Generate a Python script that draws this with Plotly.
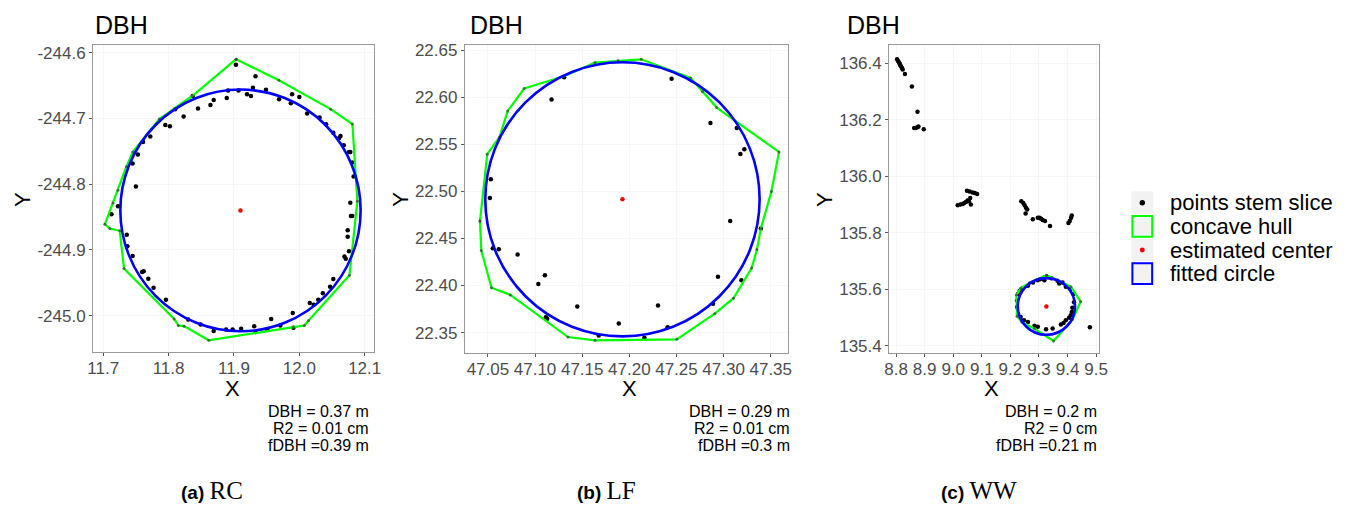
import plotly.graph_objects as go

# ---------------- data ----------------
# Panel (a) RC
a_pts_x = [11.903, 11.933, 11.929, 11.949, 11.920, 11.926, 11.907, 11.891, 11.889, 11.869, 11.864, 11.845,
           11.823, 11.837, 11.810, 11.795, 11.802, 11.772, 11.761, 11.753, 11.745, 11.750,
           11.7126, 11.7227, 11.736, 11.737, 11.745, 11.7595, 11.762, 11.769, 11.777, 11.796, 11.830,
           11.849, 11.869, 11.888, 11.898,
           11.911, 11.931, 11.933, 11.951, 11.957, 11.971, 11.991, 11.990, 12.016, 12.022, 12.029,
           12.036, 12.047, 12.052, 12.069, 12.071, 12.076, 12.074, 12.074, 12.079, 12.081, 12.078,
           11.969, 11.989, 12.000, 11.987, 12.012, 12.031, 12.041, 12.052, 12.063, 12.061, 12.068,
           12.076, 12.078, 12.081, 12.083]
a_pts_y = [-244.6185, -244.636, -244.6535, -244.6565, -244.6635, -244.666, -244.6575, -244.6575, -244.669,
           -244.672, -244.6795, -244.685, -244.697, -244.666, -244.686, -244.71, -244.712, -244.7275,
           -244.736, -244.755, -244.7685, -244.8035,
           -244.846, -244.8335, -244.877, -244.8945, -244.9095, -244.9335, -244.9325, -244.944, -244.9575,
           -244.976, -245.006, -245.0135, -245.0235, -245.021, -245.021,
           -245.02, -245.016, -245.025, -245.022, -245.005, -245.015, -245.0185, -244.996, -244.981,
           -244.9835, -244.976, -244.966, -244.956, -244.9445, -244.91, -244.9135, -244.902, -244.88,
           -244.87, -244.8485, -244.8485, -244.8285,
           -244.671, -244.6635, -244.6675, -244.677, -244.6925, -244.6985, -244.709, -244.722, -244.727,
           -244.73, -244.741, -244.751, -244.751, -244.767, -244.7885]
a_hull_x = [11.9033, 11.9688, 12.048, 12.0812, 12.0888, 12.0767, 12.0142, 12.0077, 11.9911, 11.8614,
            11.8236, 11.815, 11.8085, 11.7318, 11.7253, 11.7101, 11.7026, 11.7151, 11.7227, 11.7354,
            11.7454, 11.7858, 11.8362]
a_hull_y = [-244.610, -244.642, -244.686, -244.7086, -244.826, -244.9386, -245.0076, -245.015, -245.0176,
            -245.0375, -245.016, -245.015, -245.005, -244.9285, -244.871, -244.8676, -244.861, -244.8286,
            -244.8095, -244.7735, -244.751, -244.701, -244.666]
a_center = (11.910, -244.840)
a_radius = 0.1838

# Panel (b) LF
b_pts_x = [47.1308, 47.1175, 47.2448, 47.286, 47.314, 47.3178, 47.322, 47.307, 47.3395, 47.294, 47.3189,
           47.2888, 47.2304, 47.2406, 47.216, 47.1888, 47.1675, 47.1448, 47.1115, 47.1129, 47.1105,
           47.1035, 47.0815, 47.0615, 47.0552, 47.0521, 47.0531]
b_pts_y = [22.621, 22.5976, 22.6196, 22.5725, 22.5673, 22.5397, 22.5446, 22.4685, 22.4605, 22.4092, 22.4057,
           22.3805, 22.3788, 22.3558, 22.3446, 22.3596, 22.347, 22.3778, 22.3662, 22.3648, 22.4109,
           22.4015, 22.4329, 22.4385, 22.4395, 22.4929, 22.5128]
b_hull_x = [47.0416, 47.0493, 47.0622, 47.071, 47.0885, 47.1308, 47.1636, 47.1881, 47.2126, 47.265,
            47.2776, 47.2927, 47.3587, 47.3507, 47.3395, 47.3353, 47.3297, 47.3105, 47.2906, 47.2503,
            47.1636, 47.135, 47.0738, 47.0538, 47.043]
b_hull_y = [22.4685, 22.5394, 22.5575, 22.5854, 22.6092, 22.6221, 22.6367, 22.6388, 22.6402, 22.6203,
            22.6057, 22.5889, 22.5418, 22.4999, 22.4605, 22.4381, 22.4186, 22.3865, 22.3701, 22.3428,
            22.3418, 22.3453, 22.39, 22.3976, 22.4371]
b_center = (47.1927, 22.4915)
b_radius = 0.1455

# Panel (c) WW
c_pts_x = [8.8035, 8.8069, 8.8104, 8.8127, 8.815, 8.8173, 8.8208, 8.8231, 8.8311, 8.8554, 8.875, 8.8634,
           8.8692, 8.875, 8.8784, 8.8969,
           9.0157, 9.0249, 9.033, 9.0388, 9.0445, 9.0503, 9.0549, 9.0618, 9.0595, 9.048, 9.0572, 9.0676,
           9.0757, 9.0837,
           9.2383, 9.2452, 9.2498, 9.2544, 9.259, 9.2533, 9.2787, 9.296, 9.3017, 9.3075, 9.3133, 9.3213,
           9.3386, 9.4032, 9.4078, 9.4125, 9.4148,
           9.296, 9.304, 9.319, 9.319, 9.344, 9.365, 9.371, 9.3825, 9.394, 9.4113, 9.4205, 9.4228, 9.417,
           9.4148, 9.4113, 9.4055, 9.394, 9.3859, 9.3767, 9.3479, 9.3248, 9.296, 9.2845, 9.2614, 9.2475,
           9.236, 9.2268, 9.2234, 9.2234, 9.2268, 9.2326, 9.2441, 9.2614, 9.2791,
           9.4782]
c_pts_y = [136.414, 136.408, 136.4023, 136.3977, 136.393, 136.3884, 136.3826, 136.3779, 136.3616, 136.3174,
           136.2279, 136.1709, 136.1709, 136.1733, 136.1756, 136.1663,
           135.8977, 135.9, 135.9023, 135.9058, 135.9093, 135.914, 135.9116, 135.9, 135.9233, 135.9488,
           135.9465, 135.943, 135.9407, 135.9372,
           135.9116, 135.9058, 135.8977, 135.8884, 135.8826, 135.8686, 135.8477, 135.8535, 135.8535,
           135.85, 135.8453, 135.8419, 135.8244, 135.8349, 135.8419, 135.8535, 135.8616,
           135.6326, 135.636, 135.6419, 135.6326, 135.6395, 135.6302, 135.6209, 135.6244, 135.6093,
           135.6012, 135.5837, 135.5547, 135.5349, 135.5198, 135.5081, 135.5, 135.4907, 135.4814,
           135.4756, 135.4616, 135.4593, 135.4674, 135.4709, 135.4849, 135.4907, 135.5023, 135.514,
           135.5372, 135.5605, 135.5837, 135.5953, 135.6047, 135.6128, 135.6244,
           135.4663]
c_hull_x = [9.3271, 9.4113, 9.4459, 9.4171, 9.3513, 9.2844, 9.2406, 9.2233, 9.221, 9.236, 9.2671]
c_hull_y = [135.65, 135.6093, 135.557, 135.493, 135.4174, 135.4605, 135.4837, 135.5047, 135.5802,
            135.6035, 135.6233]
c_center = (9.326, 135.5395)
c_radius = 0.1003

# tick values
a_xticks = [11.7, 11.8, 11.9, 12.0, 12.1]
a_yticks = [-244.6, -244.7, -244.8, -244.9, -245.0]
b_xticks = [47.05, 47.10, 47.15, 47.20, 47.25, 47.30, 47.35]
b_yticks = [22.35, 22.40, 22.45, 22.50, 22.55, 22.60, 22.65]
c_xticks = [8.8, 8.9, 9.0, 9.1, 9.2, 9.3, 9.4, 9.5]
c_yticks = [135.4, 135.6, 135.8, 136.0, 136.2, 136.4]

# texts
stats = [["DBH = 0.37 m", "R2 = 0.01 cm", "fDBH =0.39 m"],
         ["DBH = 0.29 m", "R2 = 0.01 cm", "fDBH =0.3 m"],
         ["DBH = 0.2 m", "R2 = 0 cm", "fDBH =0.21 m"]]
captions = [("(a)", "RC"), ("(b)", "LF"), ("(c)", "WW")]
legend_labels = ["points stem slice", "concave hull", "estimated center", "fitted circle"]

# ---------------- figure ----------------
W, H = 1356, 506
def px(x):
    return x / W
def py(y):
    return 1 - y / H

FONT = "Liberation Sans, Arial, sans-serif"
GREEN = "#00ff00"
BLUE = "#0000ff"
RED = "#ff0000"

fig = go.Figure()

panels = [
    dict(pts=(a_pts_x, a_pts_y), hull=(a_hull_x, a_hull_y), c=a_center, r=a_radius, ax="",
         xt=a_xticks, yt=a_yticks, xfmt="{:.1f}", yfmt="{:.1f}",
         dom_x=(88, 372), dom_y=(42, 353), rx=(11.68442, 12.11407), ry=(-245.05553, -244.58905)),
    dict(pts=(b_pts_x, b_pts_y), hull=(b_hull_x, b_hull_y), c=b_center, r=b_radius, ax="2",
         xt=b_xticks, yt=b_yticks, xfmt="{:.2f}", yfmt="{:.2f}",
         dom_x=(464, 791), dom_y=(42, 354), rx=(47.02556, 47.36855), ry=(22.32822, 22.65492)),
    dict(pts=(c_pts_x, c_pts_y), hull=(c_hull_x, c_hull_y), c=c_center, r=c_radius, ax="3",
         xt=c_xticks, yt=c_yticks, xfmt="{:.1f}", yfmt="{:.1f}",
         dom_x=(893, 1105), dom_y=(42, 354), rx=(8.77578, 9.50934), ry=(135.37454, 136.46278)),
]

shapes = []
annotations = []

for p in panels:
    xa = "x" + p["ax"]
    ya = "y" + p["ax"]
    fig.add_trace(go.Scatter(x=p["pts"][0], y=p["pts"][1], mode="markers", xaxis=xa, yaxis=ya,
                             marker=dict(color="black", size=4.5), showlegend=False, hoverinfo="skip"))
    hx = list(p["hull"][0]) + [p["hull"][0][0]]
    hy = list(p["hull"][1]) + [p["hull"][1][0]]
    fig.add_trace(go.Scatter(x=hx, y=hy, mode="lines+markers", xaxis=xa, yaxis=ya,
                             line=dict(color=GREEN, width=2.2),
                             marker=dict(color="rgba(60,60,60,0.7)", size=3),
                             showlegend=False, hoverinfo="skip"))
    fig.add_trace(go.Scatter(x=[p["c"][0]], y=[p["c"][1]], mode="markers", xaxis=xa, yaxis=ya,
                             marker=dict(color=RED, size=4.5), showlegend=False, hoverinfo="skip"))
    cx, cy = p["c"]
    r = p["r"]
    shapes.append(dict(type="circle", xref=xa, yref=ya, x0=cx - r, x1=cx + r, y0=cy - r, y1=cy + r,
                       line=dict(color=BLUE, width=2.6), layer="above"))

    axis_common = dict(showline=True, linecolor="#9a9a9a", linewidth=1, mirror=True,
                       ticks="outside", ticklen=3, tickcolor="#5a5a5a", tickwidth=1,
                       showgrid=True, gridcolor="#f6f6f6", zeroline=False,
                       tickfont=dict(family=FONT, size=17, color="#4d4d4d"))
    key = p["ax"]
    fig.update_layout(**{
        "xaxis" + key: dict(domain=[px(p["dom_x"][0]), px(p["dom_x"][1])], range=list(p["rx"]),
                            anchor=ya, tickvals=p["xt"], ticktext=[p["xfmt"].format(v) for v in p["xt"]],
                            ticklabelstandoff=-3, **axis_common),
        "yaxis" + key: dict(domain=[py(p["dom_y"][1]), py(p["dom_y"][0])], range=list(p["ry"]),
                            anchor=xa, tickvals=p["yt"], ticktext=[p["yfmt"].format(v) for v in p["yt"]],
                            **axis_common),
    })

# panel titles and axis titles
title_x = [88, 467, 848]
ytitle_x = [16, 399, 827]
xtitle_x = [229, 630, 997]
stat_x = [369, 795, 1105]
caption_x = [208, 607, 984]
for i in range(3):
    annotations.append(dict(text="DBH", x=px(title_x[i]), y=py(21), xref="paper", yref="paper",
                            xanchor="left", yanchor="middle", showarrow=False,
                            font=dict(family=FONT, size=25, color="black")))
    annotations.append(dict(text="Y", x=px(ytitle_x[i]), y=py(198), xref="paper", yref="paper",
                            xanchor="center", yanchor="middle", showarrow=False, textangle=-90,
                            font=dict(family=FONT, size=22, color="black")))
    annotations.append(dict(text="X", x=px(xtitle_x[i]), y=py(390), xref="paper", yref="paper",
                            xanchor="center", yanchor="middle", showarrow=False,
                            font=dict(family=FONT, size=22, color="black")))
    for j, line in enumerate(stats[i]):
        annotations.append(dict(text=line, x=px(stat_x[i]), y=py(413 + 17.5 * j), xref="paper", yref="paper",
                                xanchor="right", yanchor="middle", showarrow=False,
                                font=dict(family=FONT, size=16, color="black")))
    lab, name = captions[i]
    annotations.append(dict(text="<b>" + lab + "</b> <span style=\"font-family:'Liberation Serif',serif;font-size:25px\">" + name + "</span>",
                            x=px(caption_x[i]), y=py(493), xref="paper", yref="paper",
                            xanchor="center", yanchor="middle", showarrow=False,
                            font=dict(family=FONT, size=19, color="black")))

# legend (drawn manually)
row_top = [190, 214, 238, 262]
key_x0, key_x1 = 1138, 1160
for k, lab in enumerate(legend_labels):
    y0 = row_top[k]
    y1 = y0 + 23
    shapes.append(dict(type="rect", xref="paper", yref="paper", x0=px(key_x0), x1=px(key_x1),
                       y0=py(y1), y1=py(y0), fillcolor="#f2f2f2", line=dict(width=0), layer="below"))
    if k == 1 or k == 3:
        col = GREEN if k == 1 else BLUE
        shapes.append(dict(type="rect", xref="paper", yref="paper", x0=px(key_x0 + 1), x1=px(key_x1 - 1),
                           y0=py(y1 - 1), y1=py(y0 + 1), fillcolor="rgba(0,0,0,0)",
                           line=dict(color=col, width=2), layer="above"))
    annotations.append(dict(text=lab, x=px(1175), y=py((y0 + y1) / 2), xref="paper", yref="paper",
                            xanchor="left", yanchor="middle", showarrow=False,
                            font=dict(family=FONT, size=22, color="black")))
# legend dots
for k, col, d in [(0, "black", 5.5), (2, RED, 5)]:
    yc = row_top[k] + 11.5
    xc = (key_x0 + key_x1) / 2
    shapes.append(dict(type="circle", xref="paper", yref="paper", x0=px(xc - d / 2), x1=px(xc + d / 2),
                       y0=py(yc + d / 2), y1=py(yc - d / 2), fillcolor=col, line=dict(width=0), layer="above"))

fig.update_layout(width=W, height=H, margin=dict(l=0, r=0, t=0, b=0),
                  paper_bgcolor="white", plot_bgcolor="white",
                  shapes=shapes, annotations=annotations, showlegend=False,
                  font=dict(family=FONT))

fig.write_html("out.html", config={"displayModeBar": False},
               post_script="document.body.style.margin='0';document.body.style.overflow='hidden';")
